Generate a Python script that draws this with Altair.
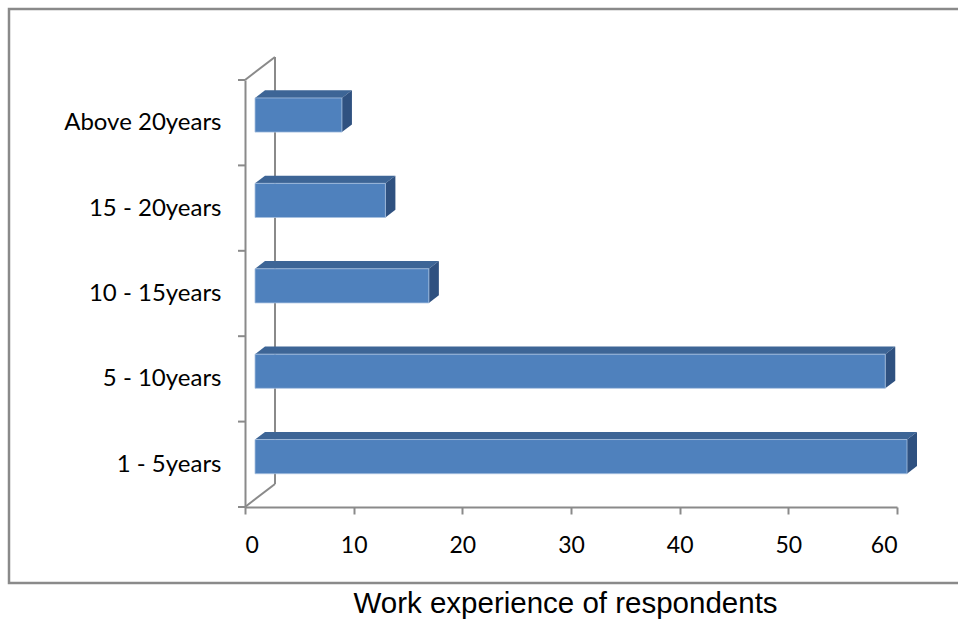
import altair as alt
import pandas as pd

# Work experience groups (bottom to top) and respondent counts
categories = ["1 - 5years", "5 - 10years", "10 - 15years", "15 - 20years", "Above 20years"]
values = [60, 58, 16, 12, 8]
x_ticks = [0, 10, 20, 30, 40, 50, 60]
title_text = "Work experience of respondents"

# plot geometry (pixels) and the 3D depth expressed in data units
W, H = 652, 427
X_MAX, Y_MAX = 60, 5
DX = 30 / W * X_MAX          # full depth, horizontal
DY = 23 / H * Y_MAX          # full depth, vertical
BAR_LO, BAR_HI = 0.3, 0.7    # bar thickness within each band

GRAY = "#8a8a8a"
FRONT, TOP, SIDE = "#4f81bd", "#3d6596", "#2f5180"
FONT = "Lato"

bars = pd.DataFrame({"cat": categories, "val": values, "idx": range(len(categories))})

# front faces
front = bars.assign(
    x0=DX / 3, x1=bars["val"] + DX / 3,
    y0=bars["idx"] + BAR_LO + DY / 3, y1=bars["idx"] + BAR_HI + DY / 3,
)

# top faces: horizontal parallelograms
top_rows = []
for c, v, i in zip(categories, values, range(len(categories))):
    for k in (1, 2):
        top_rows.append({"cat": c, "y": i + BAR_HI + k * DY / 3,
                         "x": k * DX / 3, "x2": v + k * DX / 3})
top = pd.DataFrame(top_rows)

# end faces: vertical parallelograms
side_rows = []
for c, v, i in zip(categories, values, range(len(categories))):
    for k in (1, 2):
        side_rows.append({"cat": c, "x": v + k * DX / 3,
                          "y": i + BAR_LO + k * DY / 3, "y2": i + BAR_HI + k * DY / 3})
side = pd.DataFrame(side_rows)

# side-wall outline
walls = pd.DataFrame({
    "x":  [DX, 0, 0],
    "y":  [DY, Y_MAX, 0],
    "x2": [DX, DX, DX],
    "y2": [Y_MAX + DY, Y_MAX + DY, DY],
})

bounds = pd.DataFrame({"b": list(range(len(categories) + 1))})

xs = alt.Scale(domain=[0, X_MAX], nice=False, zero=True)
ys = alt.Scale(domain=[0, Y_MAX], nice=False, zero=True)

label_expr = "[" + ",".join("'" + c + "'" for c in categories) + "][floor(datum.value)]"

x_axis = alt.Axis(
    values=x_ticks, grid=False, domainColor=GRAY, domainWidth=2,
    tickColor=GRAY, tickWidth=2, tickSize=7,
    labelFont=FONT, labelFontSize=23, labelColor="black", labelPadding=20,
    title=title_text, titleFont="Liberation Sans", titleFontSize=29.5,
    titleFontWeight="normal", titleColor="black",
    titleX=320, titleY=105, titleAnchor="middle", titleAlign="center",
    titleBaseline="alphabetic",
)
y_axis = alt.Axis(
    values=[i + 0.5 for i in range(len(categories))], labelExpr=label_expr,
    grid=False, ticks=False, domainColor=GRAY, domainWidth=2,
    labelFont=FONT, labelFontSize=24, labelColor="black", labelPadding=24,
    title=None,
)

frame = alt.Chart(pd.DataFrame({"k": [0]})).mark_rect(
    fill=None, stroke=GRAY, strokeWidth=2.5
).encode(
    x=alt.value(9 - 245), x2=alt.value(990 - 245),
    y=alt.value(9 - 80), y2=alt.value(583 - 80),
)

wall_lines = alt.Chart(walls).mark_rule(color=GRAY, strokeWidth=2).encode(
    x=alt.X("x:Q", scale=xs, axis=x_axis), y=alt.Y("y:Q", scale=ys, axis=y_axis),
    x2="x2:Q", y2="y2:Q",
)

band_ticks = alt.Chart(bounds).mark_rule(color=GRAY, strokeWidth=2).encode(
    x=alt.value(-7), x2=alt.value(0), y=alt.Y("b:Q", scale=ys),
)

front_faces = alt.Chart(front).mark_rect(
    color=FRONT, stroke="#a7c0e0", strokeWidth=0.8
).encode(
    x=alt.X("x0:Q", scale=xs), x2="x1:Q",
    y=alt.Y("y0:Q", scale=ys), y2="y1:Q",
)

top_faces = alt.Chart(top).mark_area(orient="horizontal", color=TOP).encode(
    y=alt.Y("y:Q", scale=ys), x=alt.X("x:Q", scale=xs, stack=None), x2="x2:Q",
    detail="cat:N",
)

side_faces = alt.Chart(side).mark_area(orient="vertical", color=SIDE).encode(
    x=alt.X("x:Q", scale=xs), y=alt.Y("y:Q", scale=ys, stack=None), y2="y2:Q",
    detail="cat:N",
)

chart = alt.layer(
    frame, wall_lines, band_ticks, top_faces, side_faces, front_faces
).properties(
    width=W, height=H,
    autosize=alt.AutoSizeParams(type="none"),
    padding={"left": 245, "top": 80, "right": 958 - 245 - W, "bottom": 619 - 80 - H},
    background="white",
).configure_view(stroke=None)

chart.save("out.html", embed_options={"renderer": "svg", "actions": False})
